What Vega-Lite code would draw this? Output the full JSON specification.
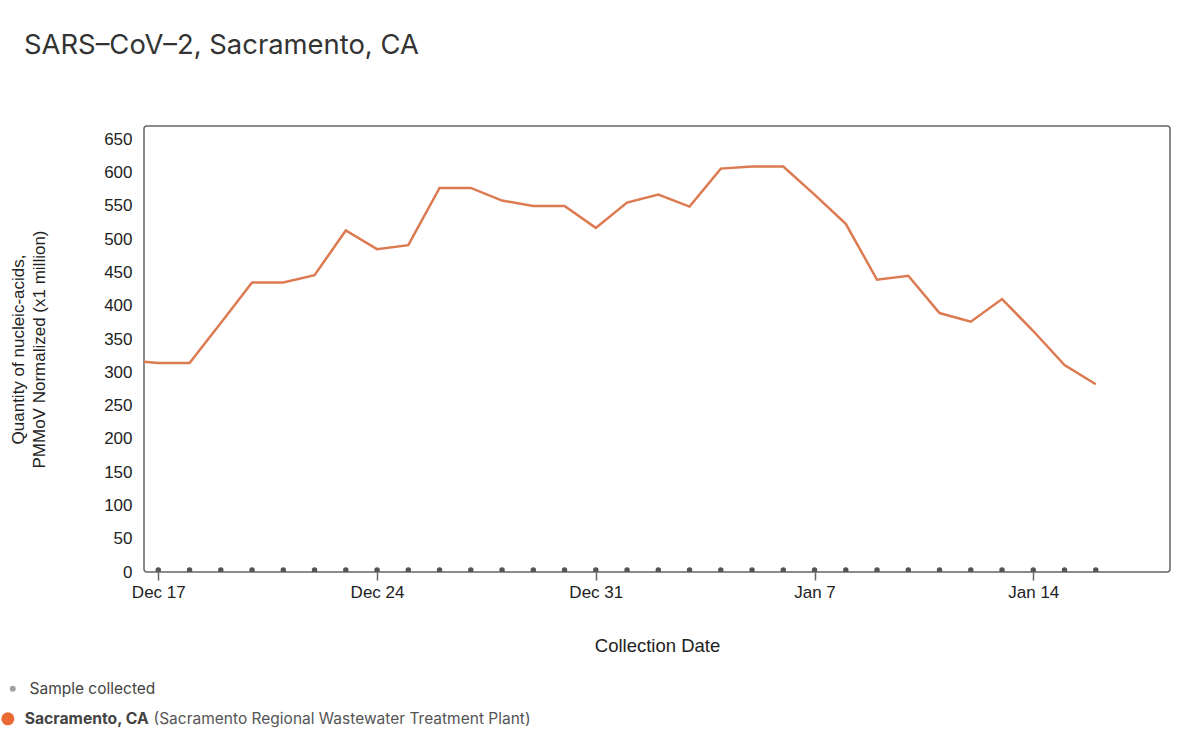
{
  "$schema": "https://vega.github.io/schema/vega-lite/v6.json",
  "width": 1026,
  "height": 446,
  "autosize": {"type": "none"},
  "padding": {"left": 144, "top": 126, "right": 30, "bottom": 168},
  "background": "white",
  "title": {
    "text": "SARS–CoV–2, Sacramento, CA",
    "anchor": "start",
    "frame": "group",
    "dx": -120,
    "offset": 67,
    "font": "Inter",
    "fontSize": 27.4,
    "fontWeight": "normal",
    "color": "#333333"
  },
  "data": {
    "values": [
      {"date": "2023-12-16", "value": 318},
      {"date": "2023-12-17", "value": 314},
      {"date": "2023-12-18", "value": 314},
      {"date": "2023-12-19", "value": 374},
      {"date": "2023-12-20", "value": 435},
      {"date": "2023-12-21", "value": 435},
      {"date": "2023-12-22", "value": 446},
      {"date": "2023-12-23", "value": 513},
      {"date": "2023-12-24", "value": 485},
      {"date": "2023-12-25", "value": 491},
      {"date": "2023-12-26", "value": 577},
      {"date": "2023-12-27", "value": 577},
      {"date": "2023-12-28", "value": 558},
      {"date": "2023-12-29", "value": 550},
      {"date": "2023-12-30", "value": 550},
      {"date": "2023-12-31", "value": 517},
      {"date": "2024-01-01", "value": 555},
      {"date": "2024-01-02", "value": 567},
      {"date": "2024-01-03", "value": 549},
      {"date": "2024-01-04", "value": 606},
      {"date": "2024-01-05", "value": 609},
      {"date": "2024-01-06", "value": 609},
      {"date": "2024-01-07", "value": 567},
      {"date": "2024-01-08", "value": 523},
      {"date": "2024-01-09", "value": 439},
      {"date": "2024-01-10", "value": 445},
      {"date": "2024-01-11", "value": 389},
      {"date": "2024-01-12", "value": 376},
      {"date": "2024-01-13", "value": 410},
      {"date": "2024-01-14", "value": 362},
      {"date": "2024-01-15", "value": 311},
      {"date": "2024-01-16", "value": 282}
    ]
  },
  "encoding": {
    "x": {
      "field": "date",
      "type": "temporal",
      "title": "Collection Date",
      "scale": {
        "type": "utc",
        "nice": false,
        "domain": [
          {"year": 2023, "month": 12, "date": 16, "hours": 13, "minutes": 1, "utc": true},
          {"year": 2024, "month": 1, "date": 18, "hours": 9, "minutes": 0, "utc": true}
        ]
      },
      "axis": {
        "labelExpr": "utcFormat(datum.value, '%b ') + utcdate(datum.value)",
        "tickCount": {"interval": "week", "step": 1},
        "grid": false,
        "domain": false,
        "ticks": true,
        "tickSize": 8,
        "tickWidth": 1.5,
        "tickColor": "#666666",
        "labelPadding": 4,
        "labelFontSize": 17,
        "labelColor": "#222222",
        "labelFont": "Liberation Sans",
        "titleFont": "Liberation Sans",
        "titleFontSize": 18.5,
        "titleFontWeight": "normal",
        "titleColor": "#222222",
        "titlePadding": 36
      }
    },
    "y": {
      "field": "value",
      "type": "quantitative",
      "title": ["Quantity of nucleic-acids,", "PMMoV Normalized (x1 million)"],
      "scale": {"domain": [0, 670], "nice": false, "zero": true},
      "axis": {
        "values": [0, 50, 100, 150, 200, 250, 300, 350, 400, 450, 500, 550, 600, 650],
        "grid": false,
        "domain": false,
        "ticks": false,
        "labelPadding": 12,
        "labelFontSize": 17,
        "labelColor": "#222222",
        "labelFont": "Liberation Sans",
        "titleFont": "Liberation Sans",
        "titleFontSize": 17,
        "titleFontWeight": "normal",
        "titleColor": "#222222",
        "titleLineHeight": 21,
        "titlePadding": 55
      }
    }
  },
  "layer": [
    {
      "mark": {"type": "line", "strokeWidth": 2.5, "clip": true, "strokeJoin": "miter"},
      "encoding": {
        "stroke": {
          "datum": "Sacramento, CA",
          "scale": {"range": ["#dc7a52"]},
          "legend": {
            "title": null,
            "orient": "none",
            "legendX": -144,
            "legendY": 585,
            "padding": 0,
            "symbolType": "circle",
            "symbolSize": 169,
            "labelOffset": 9,
            "labelFont": "Inter",
            "labelFontSize": 15.7,
            "labelFontWeight": "bold",
            "labelColor": "#444444",
            "encode": {
              "symbols": {
                "update": {
                  "fill": {"value": "#ea6a35"},
                  "stroke": {"value": "#ea6a35"},
                  "strokeWidth": {"value": 0},
                  "opacity": {"value": 1}
                }
              }
            }
          }
        }
      }
    },
    {
      "mark": {"type": "point", "filled": true, "size": 30, "clip": true, "opacity": 1, "yOffset": -2},
      "encoding": {
        "y": {"datum": 0},
        "color": {
          "datum": "Sample collected",
          "scale": {"range": ["#555555"]},
          "legend": {
            "title": null,
            "orient": "none",
            "legendX": -139,
            "legendY": 555,
            "padding": 0,
            "symbolType": "circle",
            "symbolSize": 36,
            "symbolOpacity": 0.55,
            "labelOffset": 9,
            "labelFont": "Inter",
            "labelFontSize": 15.5,
            "labelColor": "#444444"
          }
        },
        "shape": {
          "datum": "(Sacramento Regional Wastewater Treatment Plant)",
          "scale": {"range": ["circle"]},
          "legend": {
            "title": null,
            "orient": "none",
            "legendX": -8,
            "legendY": 585,
            "padding": 0,
            "symbolSize": 1,
            "symbolOpacity": 0,
            "labelOffset": 2,
            "labelLimit": 0,
            "labelFont": "Inter",
            "labelFontSize": 15.5,
            "labelColor": "#555555",
            "encode": {
              "symbols": {"update": {"opacity": {"value": 0}}}
            }
          }
        }
      }
    }
  ],
  "config": {
    "view": {"stroke": "#666666", "strokeWidth": 1.5, "cornerRadius": 3},
    "font": "Liberation Sans"
  }
}
